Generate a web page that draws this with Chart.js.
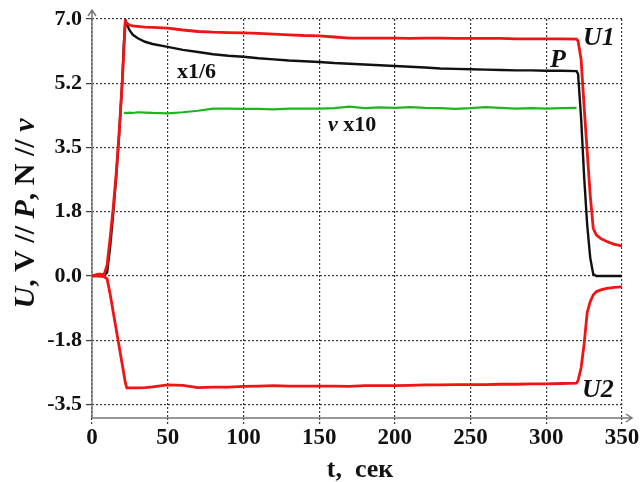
<!DOCTYPE html>
<html>
<head>
<meta charset="utf-8">
<script src="https://cdn.jsdelivr.net/npm/chart.js@4"></script>
<style>
    html, body { margin: 0; padding: 0; background: #fff; }
    #wrap { width: 644px; height: 482px; }
</style>
</head>
<body>
<div id="wrap"><canvas id="chart" width="644" height="482"></canvas></div>
<script>
// time, seconds
const tSec = [0, 4, 8, 10, 12, 14, 16, 18, 20, 21, 22, 23, 25, 27, 30, 35, 40,
    50, 60, 70, 80, 90, 100, 110, 120, 130, 140, 150, 160, 170, 180, 190, 200, 210,
    220, 230, 240, 250, 260, 270, 280, 290, 300, 310, 320,
    321, 323, 325, 327, 329, 331, 333, 336, 340, 345, 350];

const u1Values = [0, 0.05, 0.04, 0.3, 1.05, 1.85, 2.8, 3.95, 5.3, 6.1, 6.95, 6.88, 6.83, 6.81, 6.8, 6.78, 6.77,
    6.75, 6.7, 6.66, 6.64, 6.63, 6.62, 6.61, 6.59, 6.57, 6.55, 6.54, 6.51, 6.48, 6.48, 6.48, 6.48, 6.47,
    6.48, 6.48, 6.47, 6.47, 6.47, 6.47, 6.46, 6.46, 6.46, 6.46, 6.45,
    6.4, 5.9, 4.6, 3.4, 2.2, 1.3, 1.12, 1.02, 0.94, 0.86, 0.82];

// P scaled x1/6
const pValues = [0, 0, 0, 0.1, 0.8, 1.7, 2.7, 3.9, 5.3, 6.3, 6.98, 6.85, 6.68, 6.57, 6.48, 6.38, 6.32,
    6.24, 6.16, 6.1, 6.04, 6.0, 5.97, 5.93, 5.9, 5.87, 5.85, 5.83, 5.8, 5.78, 5.76, 5.74, 5.72, 5.7,
    5.68, 5.65, 5.64, 5.63, 5.62, 5.61, 5.6, 5.6, 5.59, 5.59, 5.58,
    5.5, 4.3, 2.7, 1.4, 0.5, 0.05, 0, 0, 0, 0, 0];

const u2Values = [0, 0, -0.02, -0.08, -0.5, -0.98, -1.46, -1.94, -2.42, -2.66, -2.9, -3.05, -3.05, -3.05, -3.05, -3.04, -3.02,
    -2.97, -2.98, -3.04, -3.03, -3.03, -3.01, -3.0, -2.99, -3.0, -3.0, -3.0, -3.0, -3.01, -2.99, -2.99, -2.99, -2.98,
    -2.97, -2.97, -2.96, -2.96, -2.96, -2.95, -2.95, -2.94, -2.94, -2.93, -2.92,
    -2.85, -2.5, -1.85, -1.0, -0.7, -0.52, -0.43, -0.38, -0.34, -0.31, -0.3];

// v scaled x10
const vValues = [null, null, null, null, null, null, null, null, null, 4.45, 4.44, 4.44, 4.45, 4.44, 4.46, 4.45, 4.44,
    4.43, 4.46, 4.5, 4.56, 4.56, 4.55, 4.55, 4.54, 4.56, 4.56, 4.56, 4.57, 4.61, 4.57, 4.59, 4.58, 4.6,
    4.58, 4.57, 4.55, 4.57, 4.6, 4.58, 4.56, 4.57, 4.56, 4.57, 4.58,
    null, null, null, null, null, null, null, null, null, null, null];

const yTickValues = [-3.5, -1.75, 0, 1.75, 3.5, 5.25, 7.0];
const yTickLabels = ['-3.5', '-1.8', '0.0', '1.8', '3.5', '5.2', '7.0'];
const xTickValues = [0, 50, 100, 150, 200, 250, 300, 350];

const SERIF = '"Liberation Serif", "Times New Roman", serif';

// text labels next to curves, placed in data units
const curveLabels = [
    { t: 324.3, y: 6.29, size: 26, parts: [['U1', 'italic']] },
    { t: 302.4, y: 5.69, size: 26, parts: [['P', 'italic']] },
    { t: 323.6, y: -3.30, size: 26, parts: [['U2', 'italic']] },
    { t: 56.1, y: 5.39, size: 22, parts: [['x1/6', 'normal']] },
    { t: 155.8, y: 3.95, size: 22, parts: [['v', 'italic'], [' x10', 'normal']] }
];

const yTitleParts = [['U', 'italic'], [', V // ', 'normal'], ['P', 'italic'], [', N // ', 'normal'], ['v', 'italic']];

function drawParts(ctx, parts, x, y, size) {
    let cx = x;
    parts.forEach(p => {
        ctx.font = p[1] + ' bold ' + size + 'px ' + SERIF;
        ctx.fillText(p[0], cx, y);
        cx += ctx.measureText(p[0]).width;
    });
}

function partsWidth(ctx, parts, size) {
    let w = 0;
    parts.forEach(p => {
        ctx.font = p[1] + ' bold ' + size + 'px ' + SERIF;
        w += ctx.measureText(p[0]).width;
    });
    return w;
}

const decorPlugin = {
    id: 'decor',
    beforeDraw(chart) {
        const ctx = chart.ctx;
        ctx.save();
        ctx.fillStyle = '#fff';
        ctx.fillRect(0, 0, chart.width, chart.height);
        ctx.restore();
    },
    beforeDatasetsDraw(chart) {
        const ctx = chart.ctx;
        const a = chart.chartArea;
        ctx.save();
        ctx.strokeStyle = '#777';
        ctx.lineWidth = 1.5;
        ctx.beginPath();
        // y axis with arrow
        ctx.moveTo(a.left, a.bottom);
        ctx.lineTo(a.left, a.top - 9);
        ctx.moveTo(a.left - 4, a.top - 3);
        ctx.lineTo(a.left, a.top - 9);
        ctx.lineTo(a.left + 4, a.top - 3);
        // x axis with arrow
        ctx.moveTo(a.left, a.bottom);
        ctx.lineTo(a.right + 10, a.bottom);
        ctx.moveTo(a.right + 4, a.bottom - 4);
        ctx.lineTo(a.right + 10, a.bottom);
        ctx.lineTo(a.right + 4, a.bottom + 4);
        ctx.stroke();
        ctx.restore();
    },
    afterDraw(chart) {
        const ctx = chart.ctx;
        const a = chart.chartArea;
        const xs = chart.scales.x, ys = chart.scales.y;
        ctx.save();
        ctx.fillStyle = '#111';
        ctx.textBaseline = 'alphabetic';
        ctx.textAlign = 'left';
        curveLabels.forEach(l => {
            drawParts(ctx, l.parts, xs.getPixelForValue(l.t), ys.getPixelForValue(l.y), l.size);
        });

        // x title
        ctx.font = 'bold 26px ' + SERIF;
        ctx.textAlign = 'center';
        ctx.fillText('t,  сек', (a.left + a.right) / 2 + 3, 477);

        // y title, mixed italic / upright
        ctx.textAlign = 'left';
        ctx.textBaseline = 'middle';
        const w = partsWidth(ctx, yTitleParts, 30);
        ctx.translate(26, (a.top + a.bottom) / 2 - 5);
        ctx.rotate(-Math.PI / 2);
        drawParts(ctx, yTitleParts, -w / 2, 0, 30);
        ctx.restore();
    }
};

const ctx = document.getElementById('chart').getContext('2d');

const line = (label, values, color, width, order) => ({
    label: label,
    data: tSec.map((t, i) => ({ x: t, y: values[i] })),
    borderColor: color,
    borderWidth: width,
    pointRadius: 0,
    tension: 0,
    spanGaps: false,
    order: order
});

new Chart(ctx, {
    type: 'line',
    data: {
        datasets: [
            line('U1', u1Values, '#f01515', 2.8, 0),
            line('U2', u2Values, '#f01515', 2.8, 0),
            line('P', pValues, '#111111', 2.4, 1),
            line('v', vValues, '#1fb51f', 2.2, 2)
        ]
    },
    options: {
        responsive: false,
        animation: false,
        devicePixelRatio: 1,
        layout: { padding: { left: 0, right: 22, top: 19, bottom: 0 } },
        plugins: {
            legend: { display: false },
            tooltip: { enabled: false }
        },
        scales: {
            x: {
                type: 'linear',
                min: 0,
                max: 350,
                afterFit: s => { s.height = 64; },
                afterBuildTicks: s => { s.ticks = xTickValues.map(v => ({ value: v })); },
                ticks: {
                    font: { family: SERIF, size: 23, weight: 'bold' },
                    color: '#111',
                    padding: 0,
                    maxRotation: 0,
                    autoSkip: false
                },
                grid: { color: '#3a3a3a', lineWidth: 1.2, tickLength: 6, tickColor: '#3a3a3a', tickBorderDash: [2, 2] },
                border: { display: false, dash: [2, 2] }
            },
            y: {
                min: -3.87,
                max: 7.0,
                afterFit: s => { s.width = 92; },
                afterBuildTicks: s => { s.ticks = yTickValues.map(v => ({ value: v })); },
                ticks: {
                    font: { family: SERIF, size: 22, weight: 'bold' },
                    color: '#111',
                    padding: 4,
                    autoSkip: false,
                    callback: (val, i) => yTickLabels[i]
                },
                grid: { color: '#3a3a3a', lineWidth: 1.2, tickLength: 6, tickColor: '#3a3a3a' },
                border: { display: false, dash: [2, 2] }
            }
        }
    },
    plugins: [decorPlugin]
});
</script>
</body>
</html>
